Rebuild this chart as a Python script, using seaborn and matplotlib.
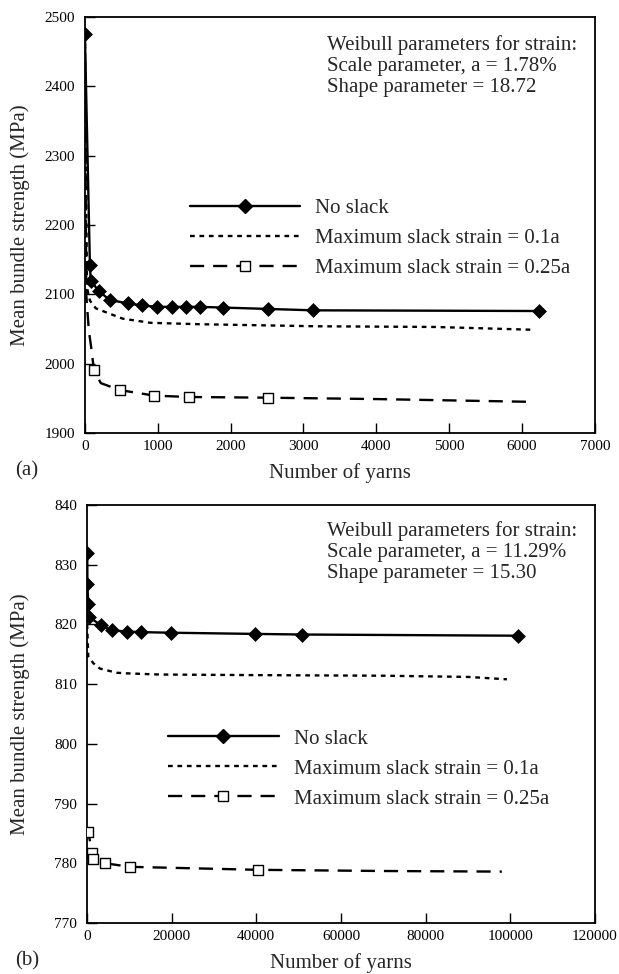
import matplotlib
matplotlib.use("Agg")
import numpy as np
import pandas as pd
import seaborn as sns
import matplotlib.pyplot as plt
from matplotlib.lines import Line2D

# ---------------- Panel (a) data ----------------
a_noslack_x = [1, 70, 80, 190, 340, 590, 790, 990, 1190, 1390, 1580, 1890, 2510, 3130, 6240]
a_noslack_y = [2475, 2143, 2120, 2105, 2092, 2087, 2084, 2082, 2082, 2082, 2082, 2081, 2079, 2077, 2076]
a_s01_x = [1, 30, 70, 150, 270, 520, 900, 1550, 3180, 4810, 6130]
a_s01_y = [2475, 2110, 2091, 2080, 2075, 2065, 2059, 2057, 2054, 2053, 2049]
a_s025_x = [1, 20, 55, 87, 125, 220, 478, 951, 1424, 2511, 4000, 6130]
a_s025_y = [2475, 2100, 2048, 2024, 1991, 1972, 1962, 1954, 1952, 1951, 1949, 1945]
a_s025_mk_x = [125, 478, 951, 1424, 2511]
a_s025_mk_y = [1991, 1962, 1954, 1952, 1951]
a_xticks = [0, 1000, 2000, 3000, 4000, 5000, 6000, 7000]
a_yticks = [1900, 2000, 2100, 2200, 2300, 2400, 2500]
a_note = "Weibull parameters for strain:\nScale parameter, a = 1.78%\nShape parameter = 18.72"

# ---------------- Panel (b) data ----------------
b_noslack_x = [70, 100, 300, 540, 3220, 5810, 9340, 12870, 19770, 39770, 50680, 101740]
b_noslack_y = [832.0, 826.8, 823.4, 821.2, 819.9, 819.0, 818.8, 818.7, 818.6, 818.4, 818.3, 818.1]
b_s01_x = [50, 300, 1500, 3060, 6990, 9340, 17180, 40000, 70000, 90000, 99200]
b_s01_y = [820.0, 814.6, 813.5, 812.6, 811.9, 811.8, 811.6, 811.5, 811.4, 811.2, 810.8]
b_s025_x = [50, 306, 1250, 1480, 4235, 10120, 40310, 70000, 98000]
b_s025_y = [786.0, 785.2, 781.7, 780.7, 780.0, 779.4, 778.9, 778.7, 778.6]
b_s025_mk_x = [306, 1250, 1480, 4235, 10120, 40310]
b_s025_mk_y = [785.2, 781.7, 780.7, 780.0, 779.4, 778.9]
b_xticks = [0, 20000, 40000, 60000, 80000, 100000, 120000]
b_yticks = [770, 780, 790, 800, 810, 820, 830, 840]
b_note = "Weibull parameters for strain:\nScale parameter, a = 11.29%\nShape parameter = 15.30"

labels = ["No slack", "Maximum slack strain = 0.1a", "Maximum slack strain = 0.25a"]

sns.set_theme(style="ticks")
plt.rcParams["font.family"] = ["Liberation Serif", "DejaVu Serif"]
plt.rcParams["axes.linewidth"] = 1.3

FS = 15.0      # labels, notes, legend
TFS = 11.0     # tick labels
LW = 1.7
DOT = (2.0, 2.0)
DASH = (6.0, 3.8)

fig = plt.figure(figsize=(6.19, 9.74), dpi=100)
ax_a = fig.add_axes([0.137, 0.5554, 0.824, 0.4271])
ax_b = fig.add_axes([0.1405, 0.0524, 0.8207, 0.4292])


def draw(ax, nx, ny, s1x, s1y, s2x, s2y, mx, my):
    sns.lineplot(x=nx, y=ny, ax=ax, color="black", lw=LW, estimator=None, sort=False)
    sns.lineplot(x=s1x, y=s1y, ax=ax, color="black", lw=LW, estimator=None, sort=False)
    ax.lines[-1].set_dashes(DOT)
    sns.lineplot(x=s2x, y=s2y, ax=ax, color="black", lw=LW, estimator=None, sort=False)
    ax.lines[-1].set_dashes(DASH)
    sns.scatterplot(x=nx, y=ny, ax=ax, marker="D", s=50, color="black", edgecolor="black",
                    linewidth=0.5, zorder=5)
    sns.scatterplot(x=mx, y=my, ax=ax, marker="s", s=60, facecolor="white", edgecolor="black",
                    linewidth=1.0, zorder=5)


def style(ax, xt, yt, note, note_xy, leg_xy, ylab_x, xlab_y):
    ax.set_xlim(xt[0], xt[-1])
    ax.set_ylim(yt[0], yt[-1])
    ax.set_xticks(xt)
    ax.set_yticks(yt)
    ax.set_xticklabels([str(v) for v in xt], fontsize=TFS)
    ax.set_yticklabels([str(v) for v in yt], fontsize=TFS)
    ax.tick_params(direction="in", length=7, width=1.0, top=False, right=False,
                   colors="black")
    ax.tick_params(axis="y", pad=7)
    ax.tick_params(axis="x", pad=5)
    for s in ax.spines.values():
        s.set_visible(True)
        s.set_color("black")
    ax.set_xlabel("Number of yarns", fontsize=FS)
    ax.set_ylabel("Mean bundle strength (MPa)", fontsize=FS)
    ax.xaxis.set_label_coords(0.5, xlab_y)
    ax.yaxis.set_label_coords(ylab_x, 0.5)
    ax.text(note_xy[0], note_xy[1], note, transform=ax.transAxes, ha="left", va="top",
            fontsize=FS, linespacing=1.15)
    handles = [
        Line2D([], [], color="black", lw=LW, marker="D", markersize=7),
        Line2D([], [], color="black", lw=LW, dashes=DOT),
        Line2D([], [], color="black", lw=LW, dashes=DASH, marker="s", markersize=7.5,
               markerfacecolor="white", markeredgecolor="black"),
    ]
    ax.legend(handles, labels, loc="upper left", bbox_to_anchor=leg_xy, frameon=False,
              fontsize=FS, handlelength=5.3, handletextpad=0.72, labelspacing=0.5,
              borderpad=0, borderaxespad=0, numpoints=1)


draw(ax_a, a_noslack_x, a_noslack_y, a_s01_x, a_s01_y, a_s025_x, a_s025_y,
     a_s025_mk_x, a_s025_mk_y)
style(ax_a, a_xticks, a_yticks, a_note, (0.475, 0.957), (0.206, 0.563), -0.108, -0.072)

draw(ax_b, b_noslack_x, b_noslack_y, b_s01_x, b_s01_y, b_s025_x, b_s025_y,
     b_s025_mk_x, b_s025_mk_y)
style(ax_b, b_xticks, b_yticks, b_note, (0.472, 0.962), (0.16, 0.464), -0.112, -0.072)

fig.text(0.025, 0.517, "(a)", fontsize=FS, ha="left", va="center")
fig.text(0.025, 0.014, "(b)", fontsize=FS, ha="left", va="center")

fig.savefig("out.png", dpi=100, facecolor="white")
